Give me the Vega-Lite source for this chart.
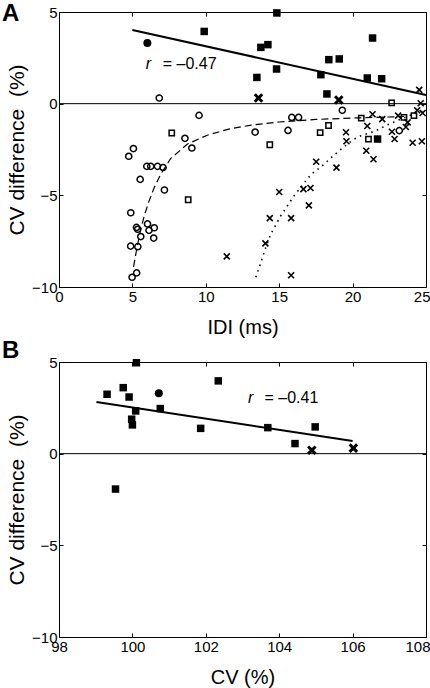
{
  "$schema": "https://vega.github.io/schema/vega-lite/v6.json",
  "padding": {"left": 1, "top": 1, "right": 0, "bottom": 0},
  "spacing": 0,
  "config": {
    "font": "Liberation Sans",
    "view": {"stroke": "black", "strokeWidth": 1},
    "axis": {"domain": false, "grid": false, "ticks": true, "tickSize": -4, "tickColor": "black", "tickWidth": 1, "labelFontSize": 15, "labelColor": "black", "titleFontSize": 20, "titleFontWeight": "normal", "titleColor": "black", "labelFlush": false, "labelOverlap": false, "labelFont": "Liberation Sans", "titleFont": "Liberation Sans"},
    "title": {"color": "black"}
  },
  "datasets": {
    "zA": [{"x": 0, "x2": 25, "y": 0}],
    "zB": [{"x": 98, "x2": 108, "y": 0}],
    "lA": [
      {"g": "reg", "x": 5, "y": 4.02}, {"g": "reg", "x": 25, "y": 0.47},
      {"g": "dash", "x": 5.08, "y": -8.9}, {"g": "dash", "x": 5.3, "y": -7.9}, {"g": "dash", "x": 5.57, "y": -6.85}, {"g": "dash", "x": 5.85, "y": -6.0}, {"g": "dash", "x": 6.14, "y": -5.3}, {"g": "dash", "x": 6.5, "y": -4.55}, {"g": "dash", "x": 6.93, "y": -3.85}, {"g": "dash", "x": 7.6, "y": -3.0}, {"g": "dash", "x": 8.75, "y": -2.2}, {"g": "dash", "x": 10.1, "y": -1.72}, {"g": "dash", "x": 11.5, "y": -1.4}, {"g": "dash", "x": 13, "y": -1.18}, {"g": "dash", "x": 15, "y": -1.0}, {"g": "dash", "x": 17.5, "y": -0.86}, {"g": "dash", "x": 20.2, "y": -0.78}, {"g": "dash", "x": 23.5, "y": -0.7},
      {"g": "dot", "x": 13.41, "y": -9.47}, {"g": "dot", "x": 13.75, "y": -8.66}, {"g": "dot", "x": 14.1, "y": -7.8}, {"g": "dot", "x": 14.43, "y": -7.11}, {"g": "dot", "x": 15.11, "y": -6.11}, {"g": "dot", "x": 16.02, "y": -5.02}, {"g": "dot", "x": 16.97, "y": -4.05}, {"g": "dot", "x": 17.34, "y": -3.75}, {"g": "dot", "x": 17.95, "y": -3.38}, {"g": "dot", "x": 18.52, "y": -2.96}, {"g": "dot", "x": 19.27, "y": -2.44}, {"g": "dot", "x": 20.11, "y": -1.93}, {"g": "dot", "x": 20.57, "y": -1.75}, {"g": "dot", "x": 21.52, "y": -1.5}, {"g": "dot", "x": 22.39, "y": -1.15}, {"g": "dot", "x": 23.29, "y": -0.84}, {"g": "dot", "x": 23.88, "y": -0.65}, {"g": "dot", "x": 24.56, "y": -0.47}, {"g": "dot", "x": 25, "y": -0.36}
    ],
    "lB": [{"g": "reg", "x": 99.02, "y": 2.82}, {"g": "reg", "x": 106.0, "y": 0.69}],
    "pA": [
      {"t": "fsq", "x": 14.84, "y": 4.95}, {"t": "fsq", "x": 13.75, "y": 3.07}, {"t": "fsq", "x": 14.23, "y": 3.22}, {"t": "fsq", "x": 13.48, "y": 1.43}, {"t": "fsq", "x": 14.82, "y": 1.89}, {"t": "fsq", "x": 17.84, "y": 1.58}, {"t": "fsq", "x": 18.38, "y": 2.4}, {"t": "fsq", "x": 19.09, "y": 2.44}, {"t": "fsq", "x": 18.25, "y": 0.53}, {"t": "fsq", "x": 21.36, "y": 3.58}, {"t": "fsq", "x": 21.0, "y": 1.4}, {"t": "fsq", "x": 21.98, "y": 1.36}, {"t": "fsq", "x": 21.7, "y": -1.93}, {"t": "fsq", "x": 9.89, "y": 3.94},
      {"t": "fci", "x": 6.02, "y": 3.31},
      {"t": "bx", "x": 13.59, "y": 0.31}, {"t": "bx", "x": 19.06, "y": 0.2},
      {"t": "oci", "x": 6.83, "y": 0.31}, {"t": "oci", "x": 9.54, "y": -0.64}, {"t": "oci", "x": 8.58, "y": -1.89}, {"t": "oci", "x": 9.05, "y": -2.42}, {"t": "oci", "x": 5.07, "y": -2.45}, {"t": "oci", "x": 4.75, "y": -2.87}, {"t": "oci", "x": 5.98, "y": -3.42}, {"t": "oci", "x": 6.25, "y": -3.42}, {"t": "oci", "x": 6.71, "y": -3.42}, {"t": "oci", "x": 7.09, "y": -3.48}, {"t": "oci", "x": 5.53, "y": -4.13}, {"t": "oci", "x": 7.18, "y": -4.71}, {"t": "oci", "x": 4.89, "y": -5.95}, {"t": "oci", "x": 6.03, "y": -6.56}, {"t": "oci", "x": 5.28, "y": -6.75}, {"t": "oci", "x": 5.36, "y": -6.85}, {"t": "oci", "x": 6.13, "y": -6.91}, {"t": "oci", "x": 6.49, "y": -6.77}, {"t": "oci", "x": 6.45, "y": -7.33}, {"t": "oci", "x": 5.57, "y": -7.25}, {"t": "oci", "x": 4.88, "y": -7.77}, {"t": "oci", "x": 5.37, "y": -7.8}, {"t": "oci", "x": 5.29, "y": -9.23}, {"t": "oci", "x": 4.98, "y": -9.47}, {"t": "oci", "x": 13.36, "y": -1.55}, {"t": "oci", "x": 15.6, "y": -1.46}, {"t": "oci", "x": 15.86, "y": -0.75}, {"t": "oci", "x": 16.32, "y": -0.75}, {"t": "oci", "x": 19.3, "y": -0.36}, {"t": "oci", "x": 23.18, "y": -1.47},
      {"t": "osq", "x": 7.68, "y": -1.6}, {"t": "osq", "x": 8.8, "y": -5.24}, {"t": "osq", "x": 14.36, "y": -2.24}, {"t": "osq", "x": 17.79, "y": -1.58}, {"t": "osq", "x": 18.36, "y": -1.19}, {"t": "osq", "x": 20.59, "y": -0.79}, {"t": "osq", "x": 21.08, "y": -1.93}, {"t": "osq", "x": 22.66, "y": 0.04}, {"t": "osq", "x": 23.5, "y": -0.75}, {"t": "osq", "x": 24.18, "y": -0.65},
      {"t": "sx", "x": 11.43, "y": -8.33}, {"t": "sx", "x": 15.81, "y": -9.36}, {"t": "sx", "x": 14.06, "y": -7.62}, {"t": "sx", "x": 14.36, "y": -6.24}, {"t": "sx", "x": 15.81, "y": -6.24}, {"t": "sx", "x": 15.0, "y": -4.82}, {"t": "sx", "x": 17.02, "y": -5.55}, {"t": "sx", "x": 16.65, "y": -4.66}, {"t": "sx", "x": 17.13, "y": -4.6}, {"t": "sx", "x": 17.52, "y": -3.17}, {"t": "sx", "x": 18.9, "y": -3.49}, {"t": "sx", "x": 19.55, "y": -1.56}, {"t": "sx", "x": 19.58, "y": -2.05}, {"t": "sx", "x": 20.93, "y": -2.57}, {"t": "sx", "x": 21.42, "y": -3.03}, {"t": "sx", "x": 21.0, "y": -1.22}, {"t": "sx", "x": 21.36, "y": -0.58}, {"t": "sx", "x": 22.02, "y": -0.84}, {"t": "sx", "x": 22.68, "y": -1.53}, {"t": "sx", "x": 22.86, "y": -1.93}, {"t": "sx", "x": 23.1, "y": -0.65}, {"t": "sx", "x": 23.63, "y": -1.27}, {"t": "sx", "x": 23.75, "y": -1.02}, {"t": "sx", "x": 24.09, "y": -2.13}, {"t": "sx", "x": 24.72, "y": -2.05}, {"t": "sx", "x": 24.54, "y": 0.75}, {"t": "sx", "x": 24.64, "y": 0.02}, {"t": "sx", "x": 24.4, "y": -0.36}, {"t": "sx", "x": 24.77, "y": -0.51}
    ],
    "pB": [
      {"t": "fsq", "x": 99.31, "y": 3.24}, {"t": "fsq", "x": 99.75, "y": 3.6}, {"t": "fsq", "x": 99.91, "y": 3.09}, {"t": "fsq", "x": 100.11, "y": 4.96}, {"t": "fsq", "x": 100.09, "y": 2.33}, {"t": "fsq", "x": 99.98, "y": 1.88}, {"t": "fsq", "x": 100.0, "y": 1.57}, {"t": "fsq", "x": 100.76, "y": 2.46}, {"t": "fsq", "x": 102.34, "y": 3.97}, {"t": "fsq", "x": 101.86, "y": 1.38}, {"t": "fsq", "x": 103.69, "y": 1.42}, {"t": "fsq", "x": 104.98, "y": 1.46}, {"t": "fsq", "x": 104.43, "y": 0.55}, {"t": "fsq", "x": 99.54, "y": -1.93},
      {"t": "fci", "x": 100.72, "y": 3.3},
      {"t": "bx", "x": 104.89, "y": 0.19}, {"t": "bx", "x": 106.02, "y": 0.3}
    ],
    "tA": [{"x": 5.91, "y": 2.17, "s": "r", "i": 1}, {"x": 7.07, "y": 2.17, "s": "= –0.47", "i": 0}],
    "tB": [{"x": 103.15, "y": 3.05, "s": "r", "i": 1}, {"x": 103.6, "y": 3.05, "s": "= –0.41", "i": 0}]
  },
  "vconcat": [
    {
      "width": 367,
      "height": 275,
      "title": {"text": "A", "anchor": "start", "frame": "group", "orient": "top", "fontSize": 24, "fontWeight": "bold", "font": "Liberation Sans", "color": "black", "baseline": "alphabetic", "offset": -40, "dx": -57},
      "encoding": {
        "x": {"field": "x", "type": "quantitative", "scale": {"domain": [0, 25], "nice": false, "zero": false}, "axis": null},
        "y": {"field": "y", "type": "quantitative", "scale": {"domain": [-10, 5], "nice": false, "zero": false}, "axis": null}
      },
      "layer": [
        {
          "data": {"name": "zA"},
          "mark": {"type": "rule", "color": "black", "strokeWidth": 1},
          "encoding": {
            "x": {"field": "x", "type": "quantitative", "scale": {"domain": [0, 25], "nice": false, "zero": false}, "axis": {"orient": "top", "labels": false, "title": null, "values": [0, 5, 10, 15, 20, 25], "minExtent": 0, "maxExtent": 0}},
            "x2": {"field": "x2"},
            "y": {"field": "y", "type": "quantitative", "scale": {"domain": [-10, 5], "nice": false, "zero": false}, "axis": {"orient": "right", "labels": false, "title": null, "values": [-10, -5, 0, 5], "minExtent": 0, "maxExtent": 0}}
          }
        },
        {"data": {"name": "lA"}, "transform": [{"filter": {"field": "g", "equal": "dash"}}], "mark": {"type": "line", "color": "black", "strokeWidth": 1.2, "strokeDash": [7, 4]}},
        {"data": {"name": "lA"}, "transform": [{"filter": {"field": "g", "equal": "dot"}}], "mark": {"type": "line", "color": "black", "strokeWidth": 1.6, "strokeDash": [1.5, 4.5]}},
        {"data": {"name": "lA"}, "transform": [{"filter": {"field": "g", "equal": "reg"}}], "mark": {"type": "line", "color": "black", "strokeWidth": 2}},
        {
          "data": {"name": "pA"}, "transform": [{"filter": {"field": "t", "equal": "fsq"}}],
          "mark": {"type": "point", "shape": "square", "filled": true, "color": "black", "size": 56, "opacity": 1},
          "encoding": {
            "x": {"field": "x", "type": "quantitative", "scale": {"domain": [0, 25], "nice": false, "zero": false}, "axis": {"values": [0, 5, 10, 15, 20, 25], "title": "IDI (ms)", "labelPadding": 6, "minExtent": 24, "maxExtent": 24, "titlePadding": 6, "labelAlign": {"condition": {"test": "datum.value == 25", "value": "right"}, "value": "center"}, "labelOffset": {"condition": {"test": "datum.value == 25", "value": 4}, "value": 0}}},
            "y": {"field": "y", "type": "quantitative", "scale": {"domain": [-10, 5], "nice": false, "zero": false}, "axis": {"values": [-10, -5, 0, 5], "title": "CV difference \u00a0(%)", "titleFontSize": 21, "labelPadding": 6, "minExtent": 28, "maxExtent": 28, "titlePadding": 4}}
          }
        },
        {"data": {"name": "pA"}, "transform": [{"filter": {"field": "t", "equal": "fci"}}], "mark": {"type": "point", "shape": "circle", "filled": true, "color": "black", "size": 64, "opacity": 1}},
        {"data": {"name": "pA"}, "transform": [{"filter": {"field": "t", "equal": "oci"}}], "mark": {"type": "point", "shape": "circle", "filled": false, "color": "black", "strokeWidth": 1.5, "size": 38, "opacity": 1}},
        {"data": {"name": "pA"}, "transform": [{"filter": {"field": "t", "equal": "osq"}}], "mark": {"type": "point", "shape": "square", "filled": false, "color": "black", "strokeWidth": 1.5, "size": 28, "opacity": 1}},
        {"data": {"name": "pA"}, "transform": [{"filter": {"field": "t", "equal": "sx"}}], "mark": {"type": "point", "shape": "M-1,-1L1,1M-1,1L1,-1", "filled": false, "color": "black", "strokeWidth": 1.6, "size": 36, "opacity": 1}},
        {"data": {"name": "pA"}, "transform": [{"filter": {"field": "t", "equal": "bx"}}], "mark": {"type": "point", "shape": "M-1,-1L1,1M-1,1L1,-1", "filled": false, "color": "black", "strokeWidth": 3, "size": 56, "opacity": 1}},
        {"data": {"name": "tA"}, "transform": [{"filter": {"field": "i", "equal": 1}}], "mark": {"type": "text", "align": "left", "baseline": "middle", "fontSize": 16, "fontStyle": "italic", "color": "black"}, "encoding": {"text": {"field": "s"}}},
        {"data": {"name": "tA"}, "transform": [{"filter": {"field": "i", "equal": 0}}], "mark": {"type": "text", "align": "left", "baseline": "middle", "fontSize": 16, "color": "black"}, "encoding": {"text": {"field": "s"}}}
      ],
      "resolve": {"axis": {"x": "independent", "y": "independent"}}
    },
    {
      "width": 367,
      "height": 275,
      "title": {"text": "B", "anchor": "start", "frame": "group", "orient": "top", "fontSize": 24, "fontWeight": "bold", "font": "Liberation Sans", "color": "black", "baseline": "alphabetic", "offset": -27, "dx": -57},
      "encoding": {
        "x": {"field": "x", "type": "quantitative", "scale": {"domain": [98, 108], "nice": false, "zero": false}, "axis": null},
        "y": {"field": "y", "type": "quantitative", "scale": {"domain": [-10, 5], "nice": false, "zero": false}, "axis": null}
      },
      "layer": [
        {
          "data": {"name": "zB"},
          "mark": {"type": "rule", "color": "black", "strokeWidth": 1},
          "encoding": {
            "x": {"field": "x", "type": "quantitative", "scale": {"domain": [98, 108], "nice": false, "zero": false}, "axis": {"orient": "top", "labels": false, "title": null, "values": [98, 100, 102, 104, 106, 108], "minExtent": 0, "maxExtent": 0}},
            "x2": {"field": "x2"},
            "y": {"field": "y", "type": "quantitative", "scale": {"domain": [-10, 5], "nice": false, "zero": false}, "axis": {"orient": "right", "labels": false, "title": null, "values": [-10, -5, 0, 5], "minExtent": 0, "maxExtent": 0}}
          }
        },
        {"data": {"name": "lB"}, "mark": {"type": "line", "color": "black", "strokeWidth": 2}},
        {
          "data": {"name": "pB"}, "transform": [{"filter": {"field": "t", "equal": "fsq"}}],
          "mark": {"type": "point", "shape": "square", "filled": true, "color": "black", "size": 56, "opacity": 1},
          "encoding": {
            "x": {"field": "x", "type": "quantitative", "scale": {"domain": [98, 108], "nice": false, "zero": false}, "axis": {"values": [98, 100, 102, 104, 106, 108], "title": "CV (%)", "labelPadding": 6, "minExtent": 24, "maxExtent": 24, "titlePadding": 6, "labelAlign": {"condition": {"test": "datum.value == 108", "value": "right"}, "value": "center"}, "labelOffset": {"condition": {"test": "datum.value == 108", "value": 4}, "value": 0}}},
            "y": {"field": "y", "type": "quantitative", "scale": {"domain": [-10, 5], "nice": false, "zero": false}, "axis": {"values": [-10, -5, 0, 5], "title": "CV difference \u00a0(%)", "titleFontSize": 21, "labelPadding": 6, "minExtent": 28, "maxExtent": 28, "titlePadding": 4}}
          }
        },
        {"data": {"name": "pB"}, "transform": [{"filter": {"field": "t", "equal": "fci"}}], "mark": {"type": "point", "shape": "circle", "filled": true, "color": "black", "size": 64, "opacity": 1}},
        {"data": {"name": "pB"}, "transform": [{"filter": {"field": "t", "equal": "bx"}}], "mark": {"type": "point", "shape": "M-1,-1L1,1M-1,1L1,-1", "filled": false, "color": "black", "strokeWidth": 3, "size": 56, "opacity": 1}},
        {"data": {"name": "tB"}, "transform": [{"filter": {"field": "i", "equal": 1}}], "mark": {"type": "text", "align": "left", "baseline": "middle", "fontSize": 16, "fontStyle": "italic", "color": "black"}, "encoding": {"text": {"field": "s"}}},
        {"data": {"name": "tB"}, "transform": [{"filter": {"field": "i", "equal": 0}}], "mark": {"type": "text", "align": "left", "baseline": "middle", "fontSize": 16, "color": "black"}, "encoding": {"text": {"field": "s"}}}
      ],
      "resolve": {"axis": {"x": "independent", "y": "independent"}}
    }
  ]
}
